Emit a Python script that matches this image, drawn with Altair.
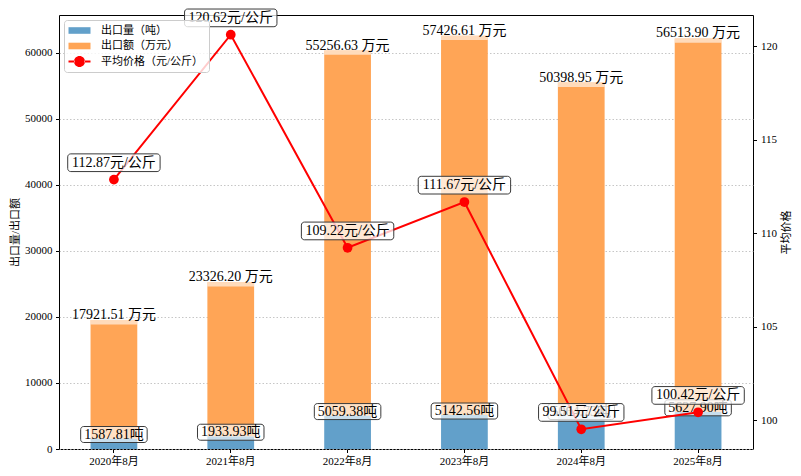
import altair as alt
import pandas as pd

categories = ['2020年8月', '2021年8月', '2022年8月', '2023年8月', '2024年8月', '2025年8月']
export_qty = [1587.81, 1933.93, 5059.38, 5142.56, 5064.73, 5627.90]      # 吨
export_val = [17921.51, 23326.20, 55256.63, 57426.61, 50398.95, 56513.90]  # 万元
avg_price = [112.87, 120.62, 109.22, 111.67, 99.51, 100.42]              # 元/公斤

QTY_NAME = '出口量（吨）'
VAL_NAME = '出口额（万元）'
PRICE_NAME = '平均价格（元/公斤）'
series_names = [QTY_NAME, VAL_NAME, PRICE_NAME]

BLUE = '#62a0ca'
ORANGE = '#ffa556'
RED = '#ff0000'
FONT = 'Liberation Serif, Noto Sans CJK SC'
LABEL_FS = 14


def text_width(s, fs):
    w = 0.0
    for ch in s:
        if ch.isdigit():
            w += 0.5
        elif ch in '. ':
            w += 0.25
        elif ch == '/':
            w += 0.278
        elif ord(ch) > 0x2e80:
            w += 1.0
        else:
            w += 0.5
    return w * fs


df = pd.DataFrame({
    'cat': categories,
    'qty': export_qty,
    'val': export_val,
    'price': avg_price,
})
df['total'] = df['qty'] + df['val']
df['val_label'] = [f'{v:.2f} 万元' for v in export_val]
df['qty_label'] = [f'{q:.2f}吨' for q in export_qty]
df['price_label'] = [f'{p:.2f}元/公斤' for p in avg_price]
df['qbox_w'] = [text_width(s, LABEL_FS) + 7 for s in df['qty_label']]
df['pbox_w'] = [text_width(s, LABEL_FS) + 8 for s in df['price_label']]

legend_df = pd.DataFrame({'name': series_names})

left_max = float(df['total'].max()) * 1.05
p_span = max(avg_price) - min(avg_price)
p_lo = min(avg_price) - 0.05 * p_span
p_hi = max(avg_price) + 0.05 * p_span

W, H = 694, 434

yL = alt.Scale(domain=[0, left_max], nice=False, zero=True)
yR = alt.Scale(domain=[p_lo, p_hi], nice=False, zero=False)

x_axis = alt.Axis(title=None, labelAngle=0, tickSize=3.5, labelPadding=3, domain=False,
                  grid=False, labelFontSize=11)
X = alt.X('cat:N', sort=categories, scale=alt.Scale(paddingInner=0.6, paddingOuter=0.27), axis=x_axis)
Xn = alt.X('cat:N', sort=categories, axis=x_axis)

left_axis = alt.Axis(title='出口量/出口额', values=list(range(0, 60001, 10000)), format='d',
                     grid=True, gridDash=[1.5, 2], gridColor='#b8b8b8', gridWidth=0.8,
                     tickSize=3.5, labelPadding=3.5, domain=False,
                     titleX=-44, titleY=H / 2, titleAngle=270, titleAlign='center',
                     titleBaseline='middle')
right_axis = alt.Axis(title='平均价格', orient='right', values=[100, 105, 110, 115, 120],
                      grid=False, tickSize=3.5, labelPadding=4, domain=False,
                      titleX=33, titleY=H / 2, titleAngle=270, titleAlign='center',
                      titleBaseline='middle')

patch_path = 'M-2,-0.6H2V0.6H-2Z'
line_path = ('M-2,-0.18H-0.9V0.18H-2Z M0.9,-0.18H2V0.18H0.9Z '
             'M-1,0A1,1 0 1,0 1,0A1,1 0 1,0 -1,0Z')

legend = alt.Legend(
    title=None, orient='none', legendX=5, legendY=5,
    padding=5, symbolOffset=5, labelOffset=16, rowPadding=3.5,
    symbolSize=121, symbolStrokeWidth=0, symbolOpacity=1,
    labelFont=FONT, labelFontSize=11, labelColor='black',
    strokeColor='#cccccc', fillColor='rgba(255,255,255,0.8)', cornerRadius=3,
)
color_scale = alt.Scale(domain=series_names, range=[BLUE, ORANGE, RED])
shape_scale = alt.Scale(domain=series_names, range=[patch_path, patch_path, line_path])


def YL(field):
    return alt.Y(field, scale=yL, axis=left_axis, stack=None)


def YR(field):
    return alt.Y(field, scale=yR, axis=right_axis)


base = alt.Chart(df)

blue_bars = base.mark_bar(color=BLUE).encode(x=X, y=YL('qty:Q'))
orange_bars = base.mark_bar(color=ORANGE).encode(x=Xn, y=YL('total:Q'), y2='qty:Q')
val_band = base.mark_bar(color='white', opacity=0.6, y2Offset=4.3).encode(
    x=Xn, y=YL('total:Q'), y2='total:Q')
val_text = base.mark_text(font=FONT, fontSize=LABEL_FS, baseline='alphabetic', dy=-1,
                          color='black').encode(x=Xn, y=YL('total:Q'), text='val_label:N')
qty_box = base.mark_bar(fill='white', fillOpacity=0.65, stroke='#3a3a3a', strokeWidth=1,
                        cornerRadius=3, yOffset=-12, y2Offset=4).encode(
    x=Xn, y=YL('qty:Q'), y2='qty:Q',
    size=alt.Size('qbox_w:Q', scale=None, legend=None))
qty_text = base.mark_text(font=FONT, fontSize=LABEL_FS, baseline='middle', dy=-4,
                          color='black').encode(x=Xn, y=YL('qty:Q'), text='qty_label:N')

left = alt.layer(blue_bars, orange_bars, val_band, val_text, qty_box, qty_text)

price_line = base.mark_line(color=RED, strokeWidth=2,
                            point=alt.OverlayMarkDef(filled=True, size=95, color=RED)).encode(
    x=Xn, y=YR('price:Q'))
price_box = base.mark_bar(fill='white', fillOpacity=0.75, stroke='#3a3a3a', strokeWidth=1,
                          cornerRadius=3, yOffset=-25.7, y2Offset=-8).encode(
    x=Xn, y=YR('price:Q'), y2='price:Q',
    size=alt.Size('pbox_w:Q', scale=None, legend=None))
price_text = base.mark_text(font=FONT, fontSize=LABEL_FS, baseline='middle', dy=-16.85,
                            color='black').encode(x=Xn, y=YR('price:Q'), text='price_label:N')

legend_layer = alt.Chart(legend_df).mark_point(filled=True, size=121, opacity=1).encode(
    x=alt.value(-500),
    y=alt.value(-500),
    color=alt.Color('name:N', scale=color_scale, legend=legend, sort=series_names),
    shape=alt.Shape('name:N', scale=shape_scale, legend=legend, sort=series_names),
)

right = alt.layer(price_line, price_box, price_text, legend_layer)

chart = alt.layer(left, right).resolve_scale(y='independent').properties(
    width=W, height=H,
    autosize=alt.AutoSizeParams(type='none'),
    padding={'left': 51, 'top': 7, 'right': 40, 'bottom': 17},
).configure_view(
    stroke='black', strokeWidth=1
).configure_axis(
    labelFont=FONT, titleFont=FONT, labelColor='black', titleColor='black',
    tickColor='black', tickWidth=1, titleFontWeight='normal', titleFontSize=11,
    labelFontSize=11,
)

chart.save('out.html', embed_options={'renderer': 'svg', 'actions': False})
